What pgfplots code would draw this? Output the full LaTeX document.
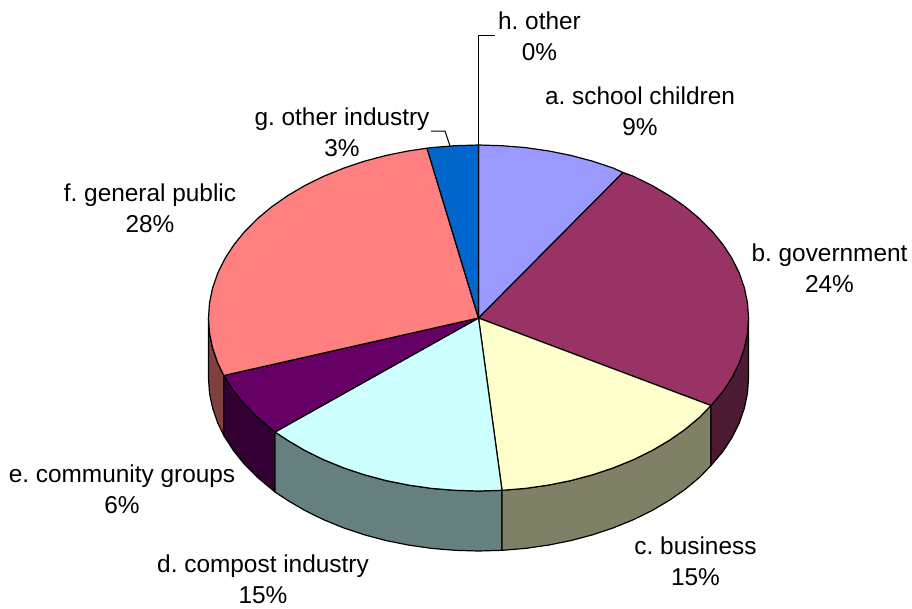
\documentclass[border=0pt]{standalone}
\usepackage{fontspec}
\setmainfont{Liberation Sans}
\usepackage{pgfplots}
\pgfplotsset{compat=1.18}

\definecolor{sa}{HTML}{9999FF}
\definecolor{sb}{HTML}{993366}
\definecolor{sc}{HTML}{FFFFCC}
\definecolor{sd}{HTML}{CCFFFF}
\definecolor{se}{HTML}{660066}
\definecolor{sf}{HTML}{FF8080}
\definecolor{sg}{HTML}{0066CC}
\definecolor{db}{HTML}{4D1A33}
\definecolor{dc}{HTML}{808066}
\definecolor{dd}{HTML}{668080}
\definecolor{de}{HTML}{330033}
\definecolor{df}{HTML}{804040}

\tikzset{lab/.style={align=center, font=\fontsize{24.4}{31}\selectfont, inner sep=0pt, text=black}}
\frenchspacing

\begin{document}
\frenchspacing
\begin{tikzpicture}
\begin{axis}[
    scale only axis,
    width=912pt,
    height=608pt,
    xmin=0, xmax=912,
    ymin=0, ymax=608,
    y dir=reverse,
    hide axis,
    clip=false,
    every axis plot/.append style={draw=black, line width=1.2pt, line join=round, mark=none},
]
\path (axis cs:0,0) rectangle (axis cs:912,608);

% side walls
\addplot[fill=df] coordinates {(208.5,318) (209.5,333.1) (212.6,348.0) (217.7,362.8) (223.8,375.5)
  (223.8,435.5) (217.7,422.8) (212.6,408.0) (209.5,393.1) (208.5,378)} -- cycle;
\addplot[fill=de] coordinates {(223.8,375.5) (233.8,391.1) (244.7,404.5) (257.3,417.2) (271.7,429.2) (275,432)
  (275,492) (271.7,489.2) (257.3,477.2) (244.7,464.5) (233.8,451.1) (223.8,435.5)} -- cycle;
\addplot[fill=dd] coordinates {(275,432) (287.6,440.3) (304.9,450.5) (323.6,459.7) (343.5,467.8) (364.4,474.8) (386.2,480.6) (408.6,485.1) (431.6,488.4) (455.0,490.3) (478.5,491) (502,490.3)
  (502,550.3) (478.5,551) (455.0,550.3) (431.6,548.4) (408.6,545.1) (386.2,540.6) (364.4,534.8) (343.5,527.8) (323.6,519.7) (304.9,510.5) (287.6,500.3) (275,492)} -- cycle;
\addplot[fill=dc] coordinates {(502,490.3) (525.4,488.4) (548.4,485.1) (570.8,480.6) (592.6,474.8) (613.5,467.8) (633.4,459.7) (652.1,450.5) (669.4,440.3) (685.3,429.2) (699.7,417.2) (711,405.5)
  (711,465.5) (699.7,477.2) (685.3,489.2) (669.4,500.3) (652.1,510.5) (633.4,519.7) (613.5,527.8) (592.6,534.8) (570.8,540.6) (548.4,545.1) (525.4,548.4) (502,550.3)} -- cycle;
\addplot[fill=db] coordinates {(711,405.5) (723.2,391.1) (732.2,377.2) (739.3,362.8) (744.4,348.0) (747.5,333.1) (748.5,318)
  (748.5,378) (747.5,393.1) (744.4,408.0) (739.3,422.8) (732.2,437.2) (723.2,451.1) (711,465.5)} -- cycle;

% top faces
\addplot[fill=sa] coordinates {(478.5,318) (478.5,145) (502.0,145.7) (525.4,147.6) (548.4,150.9) (570.8,155.4) (592.6,161.2) (613.5,168.2) (623,172.5)} -- cycle;
\addplot[fill=sb] coordinates {(478.5,318) (623,172.5) (633.4,176.3) (652.1,185.5) (669.4,195.7) (685.3,206.8) (699.7,218.8) (712.3,231.5) (723.2,244.9) (732.2,258.8) (739.3,273.2) (744.4,288.0) (747.5,302.9) (748.5,318) (747.5,333.1) (744.4,348.0) (739.3,362.8) (732.2,377.2) (723.2,391.1) (711,405.5)} -- cycle;
\addplot[fill=sc] coordinates {(478.5,318) (711,405.5) (699.7,417.2) (685.3,429.2) (669.4,440.3) (652.1,450.5) (633.4,459.7) (613.5,467.8) (592.6,474.8) (570.8,480.6) (548.4,485.1) (525.4,488.4) (502,490.3)} -- cycle;
\addplot[fill=sd] coordinates {(478.5,318) (502,490.3) (478.5,491) (455.0,490.3) (431.6,488.4) (408.6,485.1) (386.2,480.6) (364.4,474.8) (343.5,467.8) (323.6,459.7) (304.9,450.5) (287.6,440.3) (275,432)} -- cycle;
\addplot[fill=se] coordinates {(478.5,318) (275,432) (271.7,429.2) (257.3,417.2) (244.7,404.5) (233.8,391.1) (223.8,375.5)} -- cycle;
\addplot[fill=sf] coordinates {(478.5,318) (223.8,375.5) (217.7,362.8) (212.6,348.0) (209.5,333.1) (208.5,318) (209.5,302.9) (212.6,288.0) (217.7,273.2) (224.8,258.8) (233.8,244.9) (244.7,231.5) (257.3,218.8) (271.7,206.8) (287.6,195.7) (304.9,185.5) (323.6,176.3) (343.5,168.2) (364.4,161.2) (386.2,155.4) (408.6,150.9) (427,148.2)} -- cycle;
\addplot[fill=sg] coordinates {(478.5,318) (427,148.2) (431.6,147.6) (455.0,145.7) (478.5,145)} -- cycle;

% leader lines
\addplot[line width=1pt] coordinates {(478.5,145) (478.5,35) (495,35)};
\addplot[line width=1pt] coordinates {(450,146) (445,131) (431,131)};

\node[lab] at (axis cs:539.5,36) {h. other\\0\%};
\node[lab] at (axis cs:640,111) {a. school children\\9\%};
\node[lab] at (axis cs:829.5,268) {b. government\\24\%};
\node[lab] at (axis cs:695.5,561) {c. business\\15\%};
\node[lab] at (axis cs:263,579) {d. compost industry\\15\%};
\node[lab] at (axis cs:122,489) {e. community groups\\6\%};
\node[lab] at (axis cs:150,208) {f. general public\\28\%};
\node[lab] at (axis cs:342,132) {g. other industry\\3\%};
\end{axis}
\end{tikzpicture}
\end{document}
